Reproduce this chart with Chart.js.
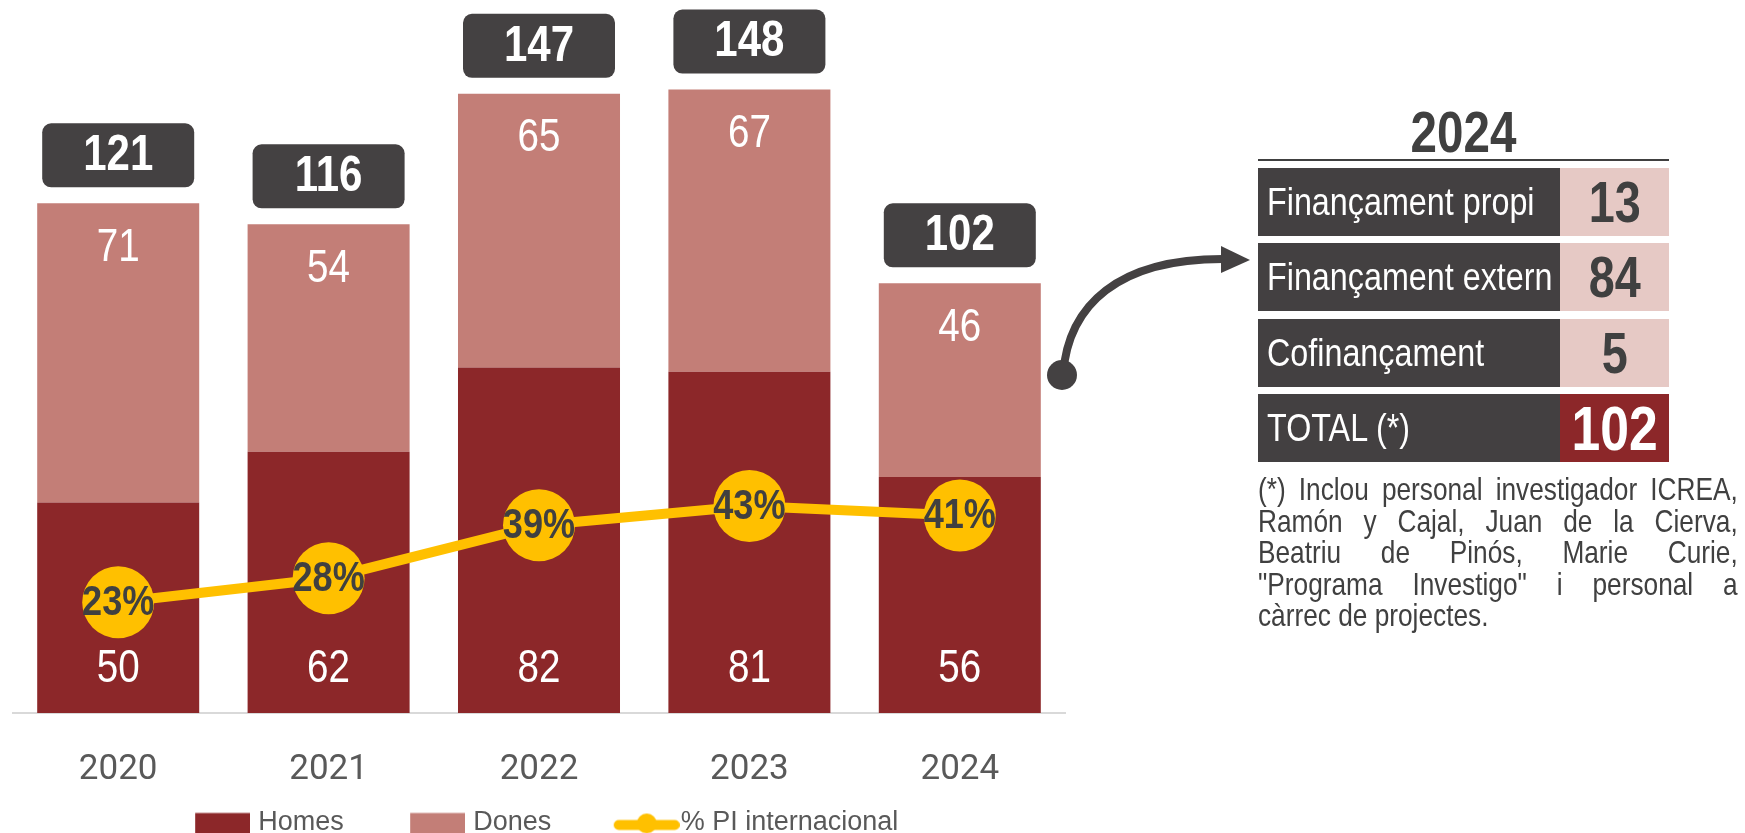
<!DOCTYPE html>
<html>
<head>
<meta charset="utf-8">
<script src="https://cdn.jsdelivr.net/npm/chart.js@4"></script>
<style>
  html, body { margin: 0; padding: 0; width: 1745px; height: 833px; overflow: hidden; background: #fff; }
  #wrap { position: absolute; left: -26px; top: 0; width: 1104px; height: 846px; }
  .sans { font-family: 'Liberation Sans', Arial, sans-serif; }
  .sq { display: inline-block; transform: scaleX(0.82); }
  #title { position: absolute; left: 1258px; width: 411px; top: 103px; text-align: center; font-weight: bold; font-size: 58px; line-height: 58px; color: #404040; }
  #title .sq { transform-origin: 50% 50%; }
  #rule { position: absolute; left: 1258px; top: 159px; width: 411px; height: 2px; background: #404040; }
  .row { position: absolute; left: 1258px; width: 411px; height: 68px; display: flex; }
  .row .lab { width: 302px; background: #434041; color: #fff; font-size: 38px; line-height: 68px; padding-left: 9px; box-sizing: border-box; white-space: nowrap; overflow: hidden; }
  .row .lab .sq { transform: scaleX(0.85); transform-origin: 0 50%; }
  .row .val { width: 109px; background: #E6C9C5; color: #404040; font-weight: bold; font-size: 57px; line-height: 68px; text-align: center; }
  .row .val .sq { transform-origin: 50% 50%; }
  .row .val.tot { background: #8C2729; color: #fff; font-size: 63px; }
  #note { position: absolute; left: 1258px; top: 474px; width: 585px; font-size: 32px; line-height: 31.5px; color: #404040; transform: scaleX(0.82); transform-origin: 0 0; }
  #note div { text-align: justify; text-align-last: justify; }
  #note div.last { text-align: left; text-align-last: left; }
  #arrow { position: absolute; left: 0; top: 0; }
</style>
</head>
<body>
<div id="wrap"><canvas id="c"></canvas></div>
<svg id="arrow" width="1745" height="833">
  <path d="M1063,375 C1068,305 1118,258 1226,259" fill="none" stroke="#444142" stroke-width="8"/>
  <polygon points="1221,246 1250,260 1221,273" fill="#444142"/>
  <ellipse cx="1062" cy="375" rx="15" ry="15" fill="#444142"/>
</svg>
<div id="title" class="sans"><span class="sq" id="titleText"></span></div>
<div id="rule"></div>
<div id="table"></div>
<div id="note" class="sans"></div>
<script>
// ---------- DATA ----------
const years = ['2020', '2021', '2022', '2023', '2024'];
const homes = [50, 62, 82, 81, 56];
const dones = [71, 54, 65, 67, 46];
const pctInternacional = [23, 28, 39, 43, 41];
const seriesNames = ['Homes', 'Dones', '% PI internacional'];

const tableYear = '2024';
const tableLabels = ['Finançament propi', 'Finançament extern', 'Cofinançament', 'TOTAL (*)'];
const tableValues = [13, 84, 5, 102];
const noteLines = [
  '(*) Inclou personal investigador ICREA,',
  'Ramón y Cajal, Juan de la Cierva,',
  'Beatriu de Pinós, Marie Curie,',
  '"Programa Investigo" i personal a',
  'càrrec de projectes.'
];

// ---------- STYLE ----------
const SANS = "'Liberation Sans', Arial, sans-serif";
const SQ = 0.84; // horizontal squeeze to mimic a narrow face
const C_HOMES = '#8C2729';
const C_DONES = '#C37E77';
const C_LINE = '#FFC000';
const C_DARK = '#444142';

// ---------- side panel ----------
document.getElementById('titleText').textContent = tableYear;
const tbl = document.getElementById('table');
const rowTops = [168, 243, 319, 394];
tableLabels.forEach((l, i) => {
  const r = document.createElement('div');
  r.className = 'row sans';
  r.style.top = rowTops[i] + 'px';
  const a = document.createElement('div'); a.className = 'lab';
  const as = document.createElement('span'); as.className = 'sq'; as.textContent = l; a.appendChild(as);
  const b = document.createElement('div'); b.className = 'val' + (i === tableLabels.length - 1 ? ' tot' : '');
  const bs = document.createElement('span'); bs.className = 'sq'; bs.textContent = tableValues[i]; b.appendChild(bs);
  r.appendChild(a); r.appendChild(b); tbl.appendChild(r);
});
const note = document.getElementById('note');
noteLines.forEach((t, i) => {
  const d = document.createElement('div');
  if (i === noteLines.length - 1) d.className = 'last';
  d.textContent = t;
  note.appendChild(d);
});

// ---------- legend swatches ----------
const LEG_W = 91, LEG_HF = 13.5;
function rectSwatch(color) {
  const c = document.createElement('canvas');
  c.width = LEG_W + 2 * (LEG_HF - 8); c.height = 44;
  const g = c.getContext('2d'); g.fillStyle = color; g.fillRect(c.width - 55, 12.5, 55, 32); return c;
}
function lineSwatch(color) {
  const c = document.createElement('canvas');
  c.width = LEG_W + 2 * (LEG_HF - 1); c.height = 44;
  const g = c.getContext('2d');
  g.strokeStyle = color; g.lineWidth = 10; g.lineCap = 'round';
  g.beginPath(); g.moveTo(c.width - 61, 24.5); g.lineTo(c.width - 5, 24.5); g.stroke();
  g.fillStyle = color; g.beginPath(); g.arc(c.width - 33, 23, 10, 0, Math.PI * 2); g.fill();
  return c;
}
const swatches = [rectSwatch(C_HOMES), rectSwatch(C_DONES), lineSwatch(C_LINE)];

// ---------- labels plugin ----------
function sqText(ctx, text, x, y, font, color) {
  ctx.save();
  ctx.translate(x, y);
  ctx.scale(SQ, 1);
  ctx.font = font;
  ctx.fillStyle = color;
  ctx.textAlign = 'center';
  ctx.textBaseline = 'middle';
  ctx.fillText(text, 0, 0);
  ctx.restore();
}
const labelPlugin = {
  id: 'valueLabels',
  afterDatasetsDraw(chart) {
    const ctx = chart.ctx;
    const mH = chart.getDatasetMeta(0), mD = chart.getDatasetMeta(1), mL = chart.getDatasetMeta(2);
    mH.data.forEach((bar, i) => {
      const d = mD.data[i];
      sqText(ctx, String(homes[i]), bar.x, bar.base - 44, '46px ' + SANS, '#fff');
      sqText(ctx, String(dones[i]), d.x, d.y + 45, '46px ' + SANS, '#fff');
      const total = homes[i] + dones[i];
      const bw = 152, bh = 64, top = d.y - 16 - bh;
      ctx.save();
      ctx.fillStyle = C_DARK;
      ctx.beginPath(); ctx.roundRect(d.x - bw / 2, top, bw, bh, 9); ctx.fill();
      ctx.restore();
      sqText(ctx, String(total), d.x, top + bh / 2 + 1, 'bold 50px ' + SANS, '#fff');
    });
    mL.data.forEach((pt, i) => {
      sqText(ctx, pctInternacional[i] + '%', pt.x, pt.y + 1, 'bold 43px ' + SANS, '#404040');
    });
  }
};

// ---------- chart ----------
const chart = new Chart(document.getElementById('c'), {
  data: {
    labels: years,
    datasets: [
      { type: 'bar', label: seriesNames[0], data: homes, backgroundColor: C_HOMES, stack: 's', order: 2,
        categoryPercentage: 1, barPercentage: 0.77 },
      { type: 'bar', label: seriesNames[1], data: dones, backgroundColor: C_DONES, stack: 's', order: 2,
        categoryPercentage: 1, barPercentage: 0.77 },
      { type: 'line', label: seriesNames[2], data: pctInternacional, yAxisID: 'y2', order: 1,
        borderColor: C_LINE, borderWidth: 10, backgroundColor: C_LINE, tension: 0,
        pointRadius: 36, pointHoverRadius: 36, pointBackgroundColor: C_LINE, pointBorderWidth: 0 }
    ]
  },
  options: {
    responsive: true,
    maintainAspectRatio: false,
    animation: false,
    devicePixelRatio: 1,
    layout: { autoPadding: false, padding: { left: 13, right: 13, top: 39, bottom: 0 } },
    scales: {
      x: {
        stacked: true,
        grid: { display: false, drawTicks: false },
        border: { display: true, color: '#D9D9D9', width: 2 },
        ticks: { color: '#595959', font: { family: 'Roboto', size: 35 }, padding: 36 },
        afterFit: (s) => { s.height = 71; }
      },
      y: {
        stacked: true, display: true, position: 'left', min: 0, max: 160,
        ticks: { display: false }, grid: { display: false }, border: { display: false },
        afterFit: (s) => { s.width = 26; }
      },
      y2: { display: false, min: 0, max: 140 }
    },
    plugins: {
      tooltip: { enabled: false },
      legend: {
        position: 'bottom',
        labels: {
          usePointStyle: true,
          pointStyleWidth: LEG_W,
          padding: 25,
          color: '#595959',
          font: { family: SANS, size: 27 },
          sort: (a, b) => a.datasetIndex - b.datasetIndex,
          generateLabels: (ch) => {
            const items = Chart.defaults.plugins.legend.labels.generateLabels(ch);
            items.forEach(it => { it.pointStyle = swatches[it.datasetIndex]; });
            return items;
          }
        }
      }
    }
  },
  plugins: [labelPlugin]
});

const diff = 713 - chart.chartArea.bottom;
if (Math.abs(diff) > 0.5) {
  const w = document.getElementById('wrap');
  w.style.height = (846 + diff) + 'px';
  chart.resize();
}
</script>
</body>
</html>
